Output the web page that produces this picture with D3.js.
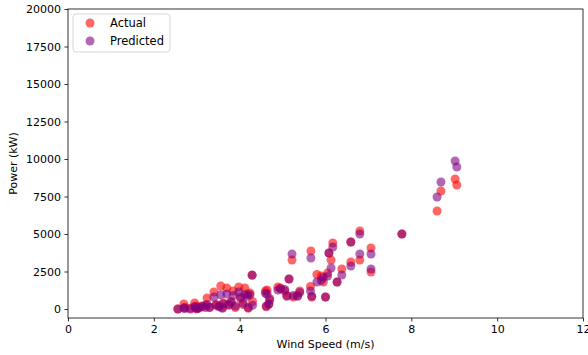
<!DOCTYPE html>
<html>
<head>
<meta charset="utf-8">
<script src="https://cdn.jsdelivr.net/npm/d3@7"></script>
<style>
  body { margin: 0; background: #fff; }
  text { font-family: "DejaVu Sans", sans-serif; }
</style>
</head>
<body>
<svg id="chart" width="588" height="355"></svg>
<script>
// wind speed (m/s) per sample
const windSpeed = [
  2.56, 2.70, 2.72, 2.85, 2.95, 2.98, 3.05, 3.12, 3.20, 3.24,
  3.30, 3.40, 3.45, 3.52, 3.56, 3.62, 3.70, 3.75, 3.80, 3.85,
  3.90, 3.98, 4.02, 4.08, 4.12, 4.18, 4.24, 4.29, 4.30, 4.20,
  3.60, 3.00, 4.60, 4.64, 4.68, 4.70, 4.62, 4.89, 4.95, 5.05,
  5.10, 5.15, 5.22, 5.25, 5.35, 5.40, 5.66, 5.65, 5.68, 5.80,
  5.90, 5.95, 6.00, 6.05, 6.08, 6.13, 6.17, 6.27, 6.38, 6.59,
  6.59, 6.80, 6.80, 7.06, 7.06, 7.78, 8.60, 8.69, 9.02, 9.06
];
// measured power (kW)
const actualPower = [
  0, 330, 120, 50, 400, 200, 100, 150, 250, 730,
  100, 1130, 300, 200, 1530, 400, 1400, 250, 500, 1200,
  100, 1470, 700, 300, 1400, 1000, 1070, 2270, 500, 50,
  100, 0, 1200, 1270, 330, 700, 150, 1470, 1400, 1200,
  900, 2000, 3270, 800, 900, 1200, 3870, 1500, 800, 2300,
  2200, 1800, 800, 2400, 3730, 3270, 4400, 1800, 2670, 4470,
  3130, 5200, 3270, 4070, 2470, 5000, 6530, 7870, 8670, 8270
];
// model output (kW)
const predictedPower = [
  0, 60, 30, 0, 150, 80, 60, 200, 100, 300,
  120, 800, 250, 150, 950, 350, 1000, 300, 450, 900,
  200, 1130, 800, 400, 950, 850, 950, 2250, 250, 100,
  50, 30, 1050, 1000, 330, 600, 200, 1270, 1350, 1300,
  850, 2000, 3670, 900, 850, 1100, 3400, 1200, 850, 1800,
  1900, 2100, 800, 2200, 3730, 2730, 4130, 1800, 2270, 4470,
  2870, 5000, 3670, 3670, 2670, 5000, 7470, 8470, 9870, 9470
];
const xTicks = [0, 2, 4, 6, 8, 10, 12];
const yTicks = [0, 2500, 5000, 7500, 10000, 12500, 15000, 17500, 20000];

const svg = d3.select('#chart');
const m = { left: 68, right: 583, top: 9, bottom: 318 };

const x = d3.scaleLinear().domain([0, 12]).range([m.left, m.right]);
const y = d3.scaleLinear().domain([-600, 20000]).range([m.bottom, m.top]);

const rows = windSpeed.map((w, i) => ({ w: w, a: actualPower[i], p: predictedPower[i] }));

// points
svg.append('g').selectAll('circle')
  .data(rows).enter().append('circle')
  .attr('cx', d => x(d.w)).attr('cy', d => y(d.a)).attr('r', 4.5)
  .attr('fill', 'red').attr('fill-opacity', 0.6);

svg.append('g').selectAll('circle')
  .data(rows).enter().append('circle')
  .attr('cx', d => x(d.w)).attr('cy', d => y(d.p)).attr('r', 4.5)
  .attr('fill', 'purple').attr('fill-opacity', 0.6);

// axes
const xAxis = svg.append('g')
  .attr('transform', 'translate(0,' + m.bottom + ')')
  .call(d3.axisBottom(x).tickValues(xTicks).tickSize(3.5).tickPadding(3.5).tickFormat(d3.format('d')));
const yAxis = svg.append('g')
  .attr('transform', 'translate(' + m.left + ',0)')
  .call(d3.axisLeft(y).tickValues(yTicks).tickSize(3.5).tickPadding(3.5).tickFormat(d3.format('d')));
[xAxis, yAxis].forEach(g => {
  g.select('.domain').remove();
  g.selectAll('text').attr('font-size', 11).attr('fill', '#000').attr('font-family', 'DejaVu Sans');
  g.selectAll('line').attr('stroke', '#000').attr('stroke-width', 0.8);
});

// frame
svg.append('rect')
  .attr('x', m.left).attr('y', m.top)
  .attr('width', m.right - m.left).attr('height', m.bottom - m.top)
  .attr('fill', 'none').attr('stroke', '#000').attr('stroke-width', 0.8);

// labels
svg.append('text')
  .attr('x', (m.left + m.right) / 2).attr('y', 348)
  .attr('text-anchor', 'middle').attr('font-size', 11)
  .text('Wind Speed (m/s)');
svg.append('text')
  .attr('transform', 'translate(17,' + ((m.top + m.bottom) / 2) + ') rotate(-90)')
  .attr('text-anchor', 'middle').attr('font-size', 11)
  .text('Power (kW)');

// legend
const lg = svg.append('g').attr('transform', 'translate(73,14)');
lg.append('rect')
  .attr('width', 97).attr('height', 38).attr('rx', 3)
  .attr('fill', '#fff').attr('fill-opacity', 0.8)
  .attr('stroke', '#ccc').attr('stroke-width', 0.8);
const items = [{ name: 'Actual', color: 'red' }, { name: 'Predicted', color: 'purple' }];
items.forEach((it, i) => {
  lg.append('circle').attr('cx', 17).attr('cy', 9 + i * 18).attr('r', 4.5)
    .attr('fill', it.color).attr('fill-opacity', 0.6);
  lg.append('text').attr('x', 37).attr('y', 13 + i * 18)
    .attr('font-size', 11.5).text(it.name);
});
</script>
</body>
</html>
